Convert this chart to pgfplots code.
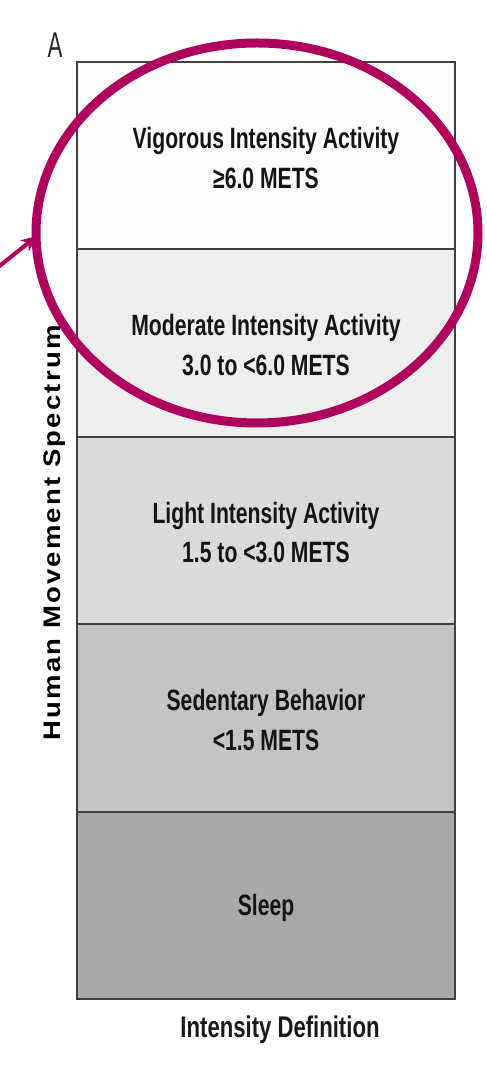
\documentclass[border=0pt]{standalone}
\usepackage{fontspec}
\setmainfont{Liberation Sans}
\usepackage{pgfplots}
\pgfplotsset{compat=1.18}
\usetikzlibrary{arrows.meta}
\definecolor{magen}{HTML}{B0005E}
\definecolor{cvig}{HTML}{FDFDFD}
\definecolor{cmod}{HTML}{EEEEEE}
\definecolor{clig}{HTML}{DADADA}
\definecolor{csed}{HTML}{C3C3C3}
\definecolor{cslp}{HTML}{A9A9A9}
\tikzset{seg/.style={align=center, xscale=0.72, font=\fontsize{29.5}{40}\selectfont\bfseries, text=black!92}}
\begin{document}
\begin{tikzpicture}[x=1bp,y=1bp]
\path[use as bounding box, fill=white] (0,0) rectangle (487,1067);
\begin{axis}[
  at={(77bp,68bp)}, anchor=south west,
  scale only axis, width=378bp, height=937bp,
  xmin=-0.5, xmax=0.5, ymin=0, ymax=5,
  ybar stacked, bar width=1,
  axis lines=none, clip=false,
]
\addplot[fill=cslp, draw=black!75, line width=2bp] coordinates {(0,1)};
\addplot[fill=csed, draw=black!75, line width=2bp] coordinates {(0,1)};
\addplot[fill=clig, draw=black!75, line width=2bp] coordinates {(0,1)};
\addplot[fill=cmod, draw=black!75, line width=2bp] coordinates {(0,1)};
\addplot[fill=cvig, draw=black!75, line width=2bp] coordinates {(0,1)};
\coordinate (s5) at (axis cs:0,4.5);
\coordinate (s4) at (axis cs:0,3.5);
\coordinate (s3) at (axis cs:0,2.5);
\coordinate (s2) at (axis cs:0,1.5);
\coordinate (s1) at (axis cs:0,0.5);
\end{axis}
\node[seg] at ([yshift=-2bp]s5) {Vigorous Intensity Activity\\≥6.0 METS};
\node[seg] at ([yshift=-2bp]s4) {Moderate Intensity Activity\\3.0 to <6.0 METS};
\node[seg] at ([yshift=-2bp]s3) {Light Intensity Activity\\1.5 to <3.0 METS};
\node[seg] at ([yshift=-2bp]s2) {Sedentary Behavior\\<1.5 METS};
\node[seg] at ([yshift=-3bp]s1) {Sleep};
\node[rotate=90, xscale=1.15, font=\fontsize{24}{28}\selectfont\bfseries\addfontfeature{LetterSpace=8}] at (55,534) {Human Movement Spectrum};
\node[xscale=0.74, font=\fontsize{30}{36}\selectfont\bfseries, text=black!90] at (280,37) {Intensity Definition};
\node[xscale=0.62, font=\fontsize{36}{40}\selectfont, text=black!85] at (55,1022) {A};
\draw[magen, line width=9bp] (257,834) ellipse [x radius=221, y radius=190];
\draw[magen, line width=4bp, -{Stealth[length=16bp,width=14bp]}] (-3,799) -- (37,831);
\end{tikzpicture}
\end{document}
